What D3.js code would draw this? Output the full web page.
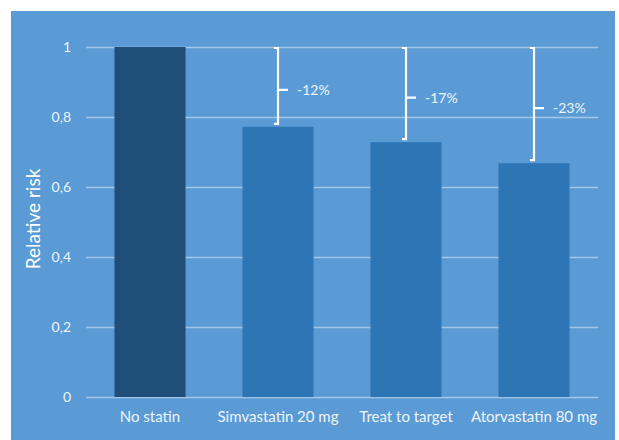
<!DOCTYPE html>
<html>
<head>
<meta charset="utf-8">
<script src="https://cdn.jsdelivr.net/npm/d3@7"></script>
<style>
  html, body { margin: 0; padding: 0; background: #ffffff; }
  svg { display: block; }
  text { font-family: Lato, "Open Sans", sans-serif; }
</style>
</head>
<body>
<svg id="chart" width="619" height="440"></svg>
<script>
// ---- data ----
const categories = ["No statin", "Simvastatin 20 mg", "Treat to target", "Atorvastatin 80 mg"];
const values = [1, 0.772, 0.728, 0.668];
const reductionLabels = ["", "-12%", "-17%", "-23%"];
const yTicks = [0, 0.2, 0.4, 0.6, 0.8, 1];
const yLabel = "Relative risk";

// ---- layout ----
const W = 619, H = 440;
const plot = { left: 86, right: 598, top: 47, bottom: 397 };

const svg = d3.select("#chart");

svg.append("rect")
  .attr("x", 11).attr("y", 11)
  .attr("width", 615 - 11).attr("height", H - 11)
  .attr("fill", "#5b9bd5");

const x = d3.scaleBand()
  .domain(categories)
  .range([plot.left, plot.right])
  .paddingInner(0.445)
  .paddingOuter(0.2225);

const y = d3.scaleLinear()
  .domain([0, 1])
  .range([plot.bottom, plot.top]);

const fmt = d => (d === 0 || d === 1) ? String(d) : d.toFixed(1).replace(".", ",");

// gridlines
const yAxis = d3.axisLeft(y)
  .tickValues(yTicks)
  .tickSize(-(plot.right - plot.left))
  .tickPadding(15)
  .tickFormat(fmt);

const gy = svg.append("g")
  .attr("transform", `translate(${plot.left},0)`)
  .call(yAxis);
gy.select(".domain").remove();
gy.selectAll(".tick line")
  .attr("stroke", "#a3c6e8")
  .attr("stroke-width", 1.3);
gy.selectAll(".tick text")
  .attr("fill", "#eef4fb")
  .attr("font-size", 14)
  .attr("font-family", "Lato, 'Open Sans', sans-serif");

// bars
svg.append("g").selectAll("rect")
  .data(categories.map((c, i) => ({ c, v: values[i], i })))
  .join("rect")
  .attr("x", d => x(d.c))
  .attr("y", d => y(d.v))
  .attr("width", x.bandwidth())
  .attr("height", d => y(0) - y(d.v))
  .attr("fill", d => d.i === 0 ? "#1f4e79" : "#2e75b6");

// x axis labels
const xAxis = d3.axisBottom(x).tickSize(0).tickPadding(0);
const gx = svg.append("g")
  .attr("transform", `translate(0,${plot.bottom})`)
  .call(xAxis);
gx.select(".domain").remove();
gx.selectAll(".tick text")
  .attr("y", 25)
  .attr("dy", 0)
  .attr("fill", "#eef4fb")
  .attr("font-size", 15)
  .attr("font-family", "Lato, 'Open Sans', sans-serif");

// brackets
const bracketData = categories.map((c, i) => ({ c, v: values[i], label: reductionLabels[i] }))
  .filter(d => d.label);

const br = svg.append("g");
bracketData.forEach(d => {
  const bx = x(d.c) + x.bandwidth() / 2;
  const top = y(1) + 1;
  const bot = y(d.v) - 3;
  const mid = (top + bot) / 2 + 4;
  br.append("path")
    .attr("d", `M${bx - 4},${top} H${bx} V${bot} H${bx - 4} M${bx},${mid} H${bx + 10}`)
    .attr("fill", "none")
    .attr("stroke", "#ffffff")
    .attr("stroke-width", 2.2);
  br.append("text")
    .attr("x", bx + 19)
    .attr("y", mid)
    .attr("dy", "0.35em")
    .attr("fill", "#eef4fb")
    .attr("font-size", 14)
    .text(d.label);
});

// y label
svg.append("text")
  .attr("transform", `translate(40,${(plot.top + plot.bottom) / 2 - 3}) rotate(-90)`)
  .attr("text-anchor", "middle")
  .attr("fill", "#ffffff")
  .attr("font-size", 19)
  .text(yLabel);
</script>
</body>
</html>
